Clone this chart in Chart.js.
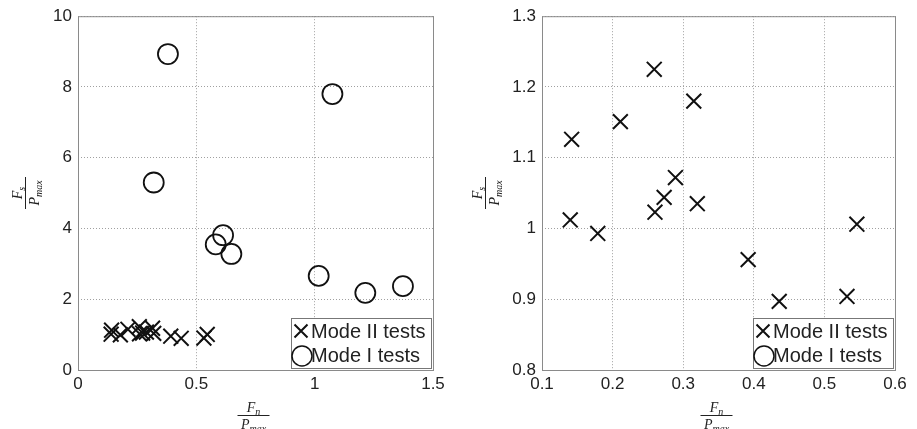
<!DOCTYPE html>
<html>
<head>
<meta charset="utf-8">
<script src="https://cdn.jsdelivr.net/npm/chart.js@4.4.1/dist/chart.umd.min.js"></script>
<style>
  body { margin: 0; background: #fff; }
  #wrap { position: relative; width: 917px; height: 429px; }
  .box { position: absolute; top: 0; height: 429px; }
</style>
</head>
<body>
<div id="wrap">
  <div class="box" style="left:0;width:460px"><canvas id="chart-left" width="460" height="429"></canvas></div>
  <div class="box" style="left:460px;width:457px"><canvas id="chart-right" width="457" height="429"></canvas></div>
</div>
<script>
// Mode II tests (shown in both panels)
const modeIIx = [0.140, 0.179, 0.142, 0.211, 0.259, 0.260, 0.273, 0.289, 0.315, 0.320, 0.392, 0.436, 0.532, 0.546];
const modeIIy = [1.012, 0.993, 1.126, 1.151, 1.225, 1.023, 1.044, 1.072, 1.180, 1.035, 0.956, 0.897, 0.904, 1.006];
// Mode I tests (left panel only)
const modeIx = [0.380, 1.075, 0.320, 0.582, 0.613, 0.648, 1.017, 1.214, 1.373];
const modeIy = [8.93, 7.80, 5.30, 3.55, 3.81, 3.28, 2.66, 2.18, 2.37];

const leftXTicks = [0, 0.5, 1, 1.5];
const leftYTicks = [0, 2, 4, 6, 8, 10];
const rightXTicks = [0.1, 0.2, 0.3, 0.4, 0.5, 0.6];
const rightYTicks = [0.8, 0.9, 1, 1.1, 1.2, 1.3];
const seriesLabels = ['Mode II tests', 'Mode I tests'];

const ink = '#111';
const frameColor = '#8a8a8a';
const tickFont = { family: '"Liberation Sans", Arial, sans-serif', size: 17 };

function toPoints(xs, ys) {
  return xs.map((x, i) => ({ x: x, y: ys[i] }));
}

function drawCross(ctx, x, y, r) {
  ctx.beginPath();
  ctx.moveTo(x - r, y - r); ctx.lineTo(x + r, y + r);
  ctx.moveTo(x - r, y + r); ctx.lineTo(x + r, y - r);
  ctx.stroke();
}

function drawCircle(ctx, x, y, r) {
  ctx.beginPath();
  ctx.arc(x, y, r, 0, Math.PI * 2);
  ctx.stroke();
}

// fraction like F_s / P_max in italic serif
function drawFrac(ctx, cx, cy, num, numSub, den, denSub, rotate) {
  ctx.save();
  ctx.translate(cx, cy);
  if (rotate) ctx.rotate(-Math.PI / 2);
  ctx.fillStyle = '#222';
  ctx.strokeStyle = '#222';
  ctx.lineWidth = 1;
  const big = 'italic 14px "Liberation Serif", "DejaVu Serif", serif';
  const small = 'italic 10px "Liberation Serif", "DejaVu Serif", serif';
  function part(main, sub, baseline) {
    ctx.font = big;
    const w1 = ctx.measureText(main).width;
    ctx.font = small;
    const w2 = ctx.measureText(sub).width;
    let x = -(w1 + w2) / 2;
    ctx.font = big;
    ctx.fillText(main, x, baseline);
    ctx.font = small;
    ctx.fillText(sub, x + w1, baseline + 3);
  }
  ctx.textBaseline = 'alphabetic';
  ctx.textAlign = 'left';
  part(num, numSub, -3);
  ctx.beginPath();
  ctx.moveTo(-16, 0.5); ctx.lineTo(16, 0.5);
  ctx.stroke();
  part(den, denSub, 14);
  ctx.restore();
}

const decorPlugin = {
  id: 'decor',
  afterDraw(chart) {
    const ctx = chart.ctx;
    const a = chart.chartArea;
    ctx.save();
    // frame
    ctx.strokeStyle = frameColor;
    ctx.lineWidth = 1;
    ctx.strokeRect(a.left + 0.5, a.top + 0.5, a.right - a.left, a.bottom - a.top);

    // legend box inside lower right corner
    const bx = a.right - 142, by = a.bottom - 52, bw = 140, bh = 50;
    ctx.fillStyle = '#fff';
    ctx.fillRect(bx, by, bw, bh);
    ctx.strokeStyle = '#777';
    ctx.strokeRect(bx + 0.5, by + 0.5, bw, bh);
    ctx.strokeStyle = ink;
    ctx.lineWidth = 2;
    drawCross(ctx, bx + 10, by + 13, 6.5);
    ctx.lineWidth = 1.5;
    drawCircle(ctx, bx + 11, by + 38, 10);
    ctx.fillStyle = '#222';
    ctx.font = '20px "Liberation Sans", Arial, sans-serif';
    ctx.textBaseline = 'middle';
    ctx.textAlign = 'left';
    ctx.fillText(seriesLabels[0], bx + 20, by + 14);
    ctx.fillText(seriesLabels[1], bx + 20, by + 38);

    // axis titles
    const midX = (a.left + a.right) / 2 - 2;
    drawFrac(ctx, midX, 415, 'F', 'n', 'P', 'max', false);
    drawFrac(ctx, 25, 193, 'F', 's', 'P', 'max', true);
    ctx.restore();
  }
};

function makeChart(id, xTicks, yTicks, yAxisWidth, padRight, datasets) {
  const ctx = document.getElementById(id).getContext('2d');
  return new Chart(ctx, {
    type: 'scatter',
    data: { datasets: datasets },
    options: {
      responsive: false,
      animation: false,
      layout: { padding: { top: 16, right: padRight, left: 0, bottom: 0 } },
      plugins: { legend: { display: false }, tooltip: { enabled: false } },
      scales: {
        x: {
          type: 'linear',
          min: xTicks[0],
          max: xTicks[xTicks.length - 1],
          afterBuildTicks: (s) => { s.ticks = xTicks.map((v) => ({ value: v })); },
          afterFit: (s) => { s.height = 59; },
          ticks: {
            color: '#222',
            font: tickFont,
            padding: 4,
            maxRotation: 0,
            autoSkip: false,
            callback: (v) => String(+Number(v).toFixed(2)),
          },
          grid: { color: '#a0a0a0', drawTicks: false },
          border: { display: false, dash: [1, 2] },
        },
        y: {
          type: 'linear',
          min: yTicks[0],
          max: yTicks[yTicks.length - 1],
          afterBuildTicks: (s) => { s.ticks = yTicks.map((v) => ({ value: v })); },
          afterFit: (s) => { s.width = yAxisWidth; },
          ticks: {
            color: '#222',
            font: tickFont,
            padding: 6,
            autoSkip: false,
            callback: (v) => String(+Number(v).toFixed(2)),
          },
          grid: { color: '#a0a0a0', drawTicks: false },
          border: { display: false, dash: [1, 2] },
        },
      },
    },
    plugins: [decorPlugin],
  });
}

function crossSet(xs, ys) {
  return {
    label: seriesLabels[0],
    data: toPoints(xs, ys),
    pointStyle: 'crossRot',
    pointRadius: 10.5,
    borderColor: ink,
    backgroundColor: ink,
    borderWidth: 2,
  };
}

function circleSet(xs, ys) {
  return {
    label: seriesLabels[1],
    data: toPoints(xs, ys),
    pointStyle: 'circle',
    pointRadius: 10,
    borderColor: ink,
    backgroundColor: 'rgba(0,0,0,0)',
    borderWidth: 1.8,
  };
}

makeChart('chart-left', leftXTicks, leftYTicks, 78, 27, [
  crossSet(modeIIx, modeIIy),
  circleSet(modeIx, modeIy),
]);

makeChart('chart-right', rightXTicks, rightYTicks, 82, 22, [
  crossSet(modeIIx, modeIIy),
  circleSet([], []),
]);
</script>
</body>
</html>
